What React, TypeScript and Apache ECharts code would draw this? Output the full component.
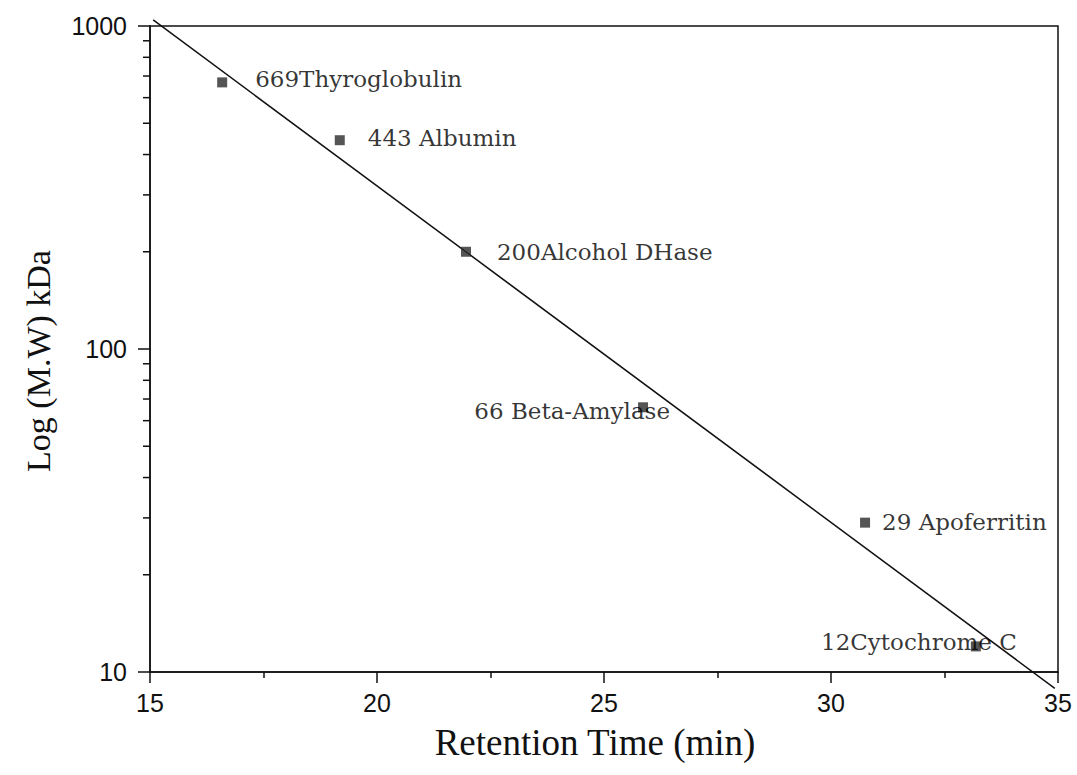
import React, { useEffect, useRef } from "react";
import * as echarts from "echarts";

// Calibration standards: retention time (min) vs molecular weight (kDa)
const retentionTime = [16.59, 19.18, 21.96, 25.86, 30.75, 33.19];
const molWeight = [669, 443, 200, 66, 29, 12];
const proteinLabels = [
  "669Thyroglobulin",
  "443 Albumin",
  "200Alcohol DHase",
  "66 Beta-Amylase",
  "29 Apoferritin",
  "12Cytochrome C",
];

// Fitted calibration line end points [time, kDa]
const fitLineTime = [15.07, 34.93];
const fitLineWeight = [1044, 8.9];

// Axis ticks
const xTicks = [15, 20, 25, 30, 35];
const yMajorTicks = [10, 100, 1000];
const yMinorTicks = [20, 30, 40, 50, 60, 70, 80, 90, 200, 300, 400, 500, 600, 700, 800, 900];

// Label placement next to each marker: [side, dx, dy]
const labelPlacement: [string, number, number][] = [
  ["right", 28, -3],
  ["right", 23, -2],
  ["right", 26, 0],
  ["left", 32, 4],
  ["right", 12, -1],
  ["left", 46, -4],
];

const INK = "#111";

export default function App() {
  const ref = useRef<HTMLDivElement>(null);

  useEffect(() => {
    if (!ref.current) return;
    const chart = echarts.init(ref.current, null, { renderer: "svg" });

    const pointData = retentionTime.map((t, i) => {
      const [side, dx, dy] = labelPlacement[i];
      return {
        value: [t, molWeight[i]],
        label: {
          show: true,
          formatter: proteinLabels[i],
          position: side as any,
          distance: 0,
          offset: [dx, dy],
          fontFamily: "DejaVu Serif",
          fontSize: 23,
          color: "#000",
        },
      };
    });

    chart.setOption({
      animation: false,
      backgroundColor: "#fff",
      grid: {
        left: 150,
        right: 19,
        top: 26,
        bottom: 103,
        show: true,
        borderColor: INK,
        borderWidth: 1.5,
        backgroundColor: "transparent",
      },
      xAxis: {
        type: "value",
        min: xTicks[0],
        max: xTicks[xTicks.length - 1],
        interval: 5,
        name: "Retention Time (min)",
        nameLocation: "middle",
        nameGap: 52,
        nameTextStyle: {
          fontFamily: "Liberation Serif",
          fontSize: 37,
          color: INK,
          padding: [0, 18, 0, 0],
        },
        axisLine: { show: true, lineStyle: { color: INK, width: 1.5 } },
        axisTick: { show: true, inside: false, length: 11, lineStyle: { color: INK, width: 1.5 } },
        minorTick: { show: true, splitNumber: 2, length: 6, lineStyle: { color: INK, width: 1.5 } },
        axisLabel: {
          fontFamily: "Liberation Sans",
          fontSize: 25,
          color: INK,
          margin: 18,
        },
        splitLine: { show: false },
      },
      yAxis: {
        type: "log",
        logBase: 10,
        min: yMajorTicks[0],
        max: yMajorTicks[yMajorTicks.length - 1],
        name: "Log (M.W) kDa",
        nameLocation: "middle",
        nameGap: 95,
        nameTextStyle: {
          fontFamily: "Liberation Serif",
          fontSize: 34,
          color: INK,
          padding: [0, 24, 0, 0],
        },
        axisLine: { show: true, lineStyle: { color: INK, width: 1.5 } },
        axisTick: { show: true, inside: false, length: 12, lineStyle: { color: INK, width: 1.5 } },
        axisLabel: {
          fontFamily: "Liberation Sans",
          fontSize: 25,
          color: INK,
          margin: 23,
          formatter: (v: number) => String(v),
        },
        splitLine: { show: false },
      },
      series: [
        {
          // logarithmic minor ticks along the left axis
          type: "custom",
          silent: true,
          clip: false,
          data: yMinorTicks.map((v) => [xTicks[0], v]),
          renderItem: (_params: any, api: any) => {
            const p = api.coord([api.value(0), api.value(1)]);
            return {
              type: "line",
              shape: { x1: p[0] - 7, y1: p[1], x2: p[0], y2: p[1] },
              style: { stroke: INK, lineWidth: 1.5 },
            };
          },
        },
        {
          type: "line",
          data: fitLineTime.map((t, i) => [t, fitLineWeight[i]]),
          showSymbol: false,
          symbol: "none",
          clip: false,
          silent: true,
          lineStyle: { color: INK, width: 1.5 },
        },
        {
          type: "scatter",
          data: pointData,
          symbol: "rect",
          symbolSize: 10,
          clip: false,
          itemStyle: { color: "#2b2b2b" },
          z: 3,
        },
      ],
    });

    return () => chart.dispose();
  }, []);

  return (
    <div
      ref={ref}
      style={{ position: "absolute", left: 0, top: 0, width: 1077, height: 775 }}
    />
  );
}
